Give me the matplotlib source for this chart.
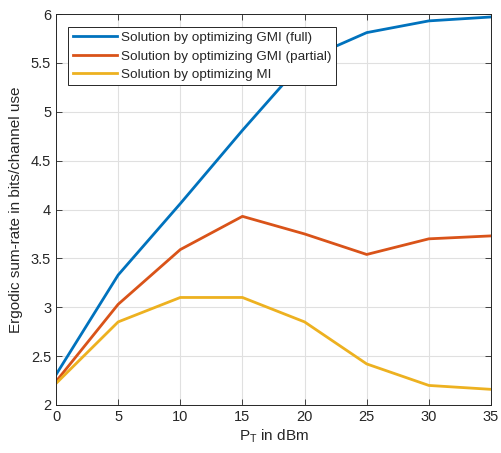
import matplotlib
matplotlib.use("Agg")
import matplotlib.pyplot as plt

plt.rcParams['font.family'] = ['Liberation Sans', 'DejaVu Sans']
plt.rcParams['mathtext.fontset'] = 'custom'
plt.rcParams['mathtext.rm'] = 'Liberation Sans'
plt.rcParams['mathtext.it'] = 'Liberation Sans:italic'

pt_dbm = [0, 5, 10, 15, 20, 25, 30, 35]
gmi_full = [2.31, 3.33, 4.06, 4.81, 5.53, 5.81, 5.93, 5.97]
gmi_partial = [2.24, 3.03, 3.59, 3.93, 3.75, 3.54, 3.70, 3.73]
mi = [2.22, 2.85, 3.10, 3.10, 2.85, 2.42, 2.20, 2.16]
labels = ['Solution by optimizing GMI (full)',
          'Solution by optimizing GMI (partial)',
          'Solution by optimizing MI']
colors = ['#0072BD', '#D95319', '#EDB120']

fig = plt.figure(figsize=(5.01, 4.53), dpi=100)
ax = fig.add_axes([0.1118, 0.106, 0.8682, 0.863])
for y, lab, c in zip([gmi_full, gmi_partial, mi], labels, colors):
    ax.plot(pt_dbm, y, color=c, lw=2, label=lab)

ax.set_xlim(0, 35)
ax.set_ylim(2, 6)
ax.set_xticks(range(0, 36, 5))
ax.set_yticks([2, 2.5, 3, 3.5, 4, 4.5, 5, 5.5, 6])
ax.set_yticklabels(['2', '2.5', '3', '3.5', '4', '4.5', '5', '5.5', '6'])
ax.grid(True, color='#e0e0e0', lw=0.8)
ax.set_axisbelow(True)
ax.tick_params(direction='in', top=True, right=True, labelsize=10.5,
               color='#262626', labelcolor='#262626', length=4, width=0.6)
for s in ax.spines.values():
    s.set_color('#262626')
    s.set_linewidth(0.7)
ax.set_xlabel(r'P$_\mathrm{T}$ in dBm', fontsize=11, color='#262626', labelpad=3)
ax.set_ylabel('Ergodic sum-rate in bits/channel use', fontsize=11, color='#262626', labelpad=6)

leg = ax.legend(loc='upper left', bbox_to_anchor=(0.028, 0.966), fontsize=9.7,
                frameon=True, fancybox=False, edgecolor='#262626', framealpha=1,
                handlelength=3.3, handletextpad=0.3, borderpad=0.32, labelspacing=0.45,
                borderaxespad=0)
leg.get_frame().set_linewidth(0.7)
for t in leg.get_texts():
    t.set_color('#262626')

fig.savefig('out.png', dpi=100)
